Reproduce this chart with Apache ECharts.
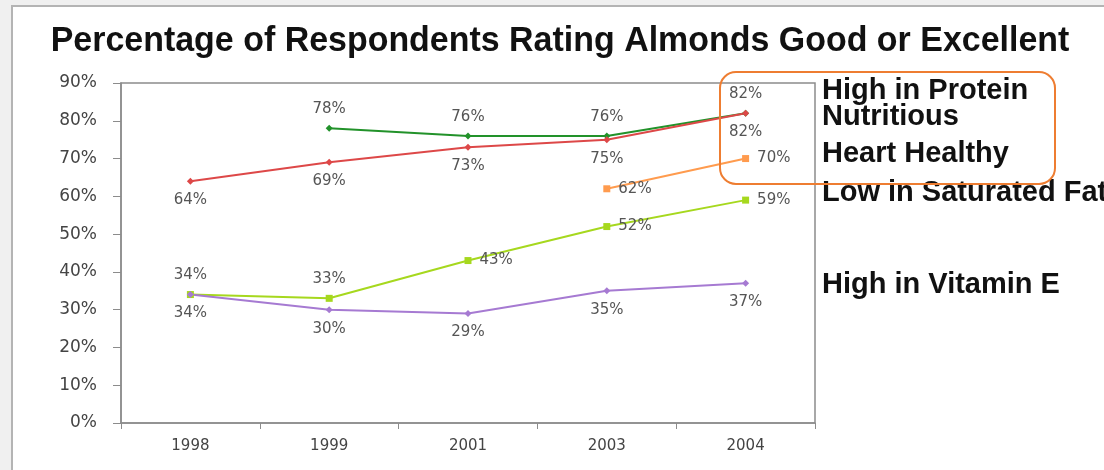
<!DOCTYPE html>
<html>
<head>
<meta charset="utf-8">
<style>
  html, body { margin: 0; padding: 0; background: #f0f0f0; }
  #chart { width: 1104px; height: 470px; }
</style>
<script src="https://cdn.jsdelivr.net/npm/echarts@6/dist/echarts.min.js"></script>
</head>
<body>
<div id="chart"></div>
<script>
// Survey years and ratings (percent rating "good or excellent")
const years = ['1998', '1999', '2001', '2003', '2004'];
const highInProtein = [null, 78, 76, 76, 82];
const nutritious = [64, 69, 73, 75, 82];
const heartHealthy = [null, null, null, 62, 70];
const lowInSatFat = [34, 33, 43, 52, 59];
const highInVitaminE = [34, 30, 29, 35, 37];

const seriesNames = ['High in Protein', 'Nutritious', 'Heart Healthy', 'Low in Saturated Fat', 'High in Vitamin E'];
const yTicks = { min: 0, max: 90, step: 10 };

const titleText = 'Percentage of Respondents Rating Almonds Good or Excellent';

const labelFont = { fontFamily: 'DejaVu Sans', fontSize: 15, color: '#555' };
const nameFont = { fontFamily: 'Liberation Sans', fontWeight: 'bold', fontSize: 29, fill: '#111', verticalAlign: 'middle' };

function makeSeries(name, data, color, symbol, labelPos) {
  return {
    name: name,
    type: 'line',
    data: data,
    connectNulls: false,
    symbol: symbol,
    symbolSize: 7,
    lineStyle: { color: color, width: 2 },
    itemStyle: { color: color },
    label: Object.assign({
      show: true,
      position: labelPos,
      distance: 8,
      formatter: p => p.value + '%'
    }, labelFont)
  };
}

// Low in Saturated Fat: first two labels sit above the point, the rest to the right
const lowFatData = lowInSatFat.map((v, i) => ({
  value: v,
  label: { position: i < 2 ? 'top' : 'right' }
}));

// series names listed beside the plot, one text element each
const nameRows = [91, 117, 154, 193, 285];
const nameTexts = seriesNames.map((n, i) => ({
  type: 'text', z: 10, x: 822, y: nameRows[i],
  style: Object.assign({ text: n }, nameFont)
}));

const chart = echarts.init(document.getElementById('chart'), null, { renderer: 'canvas' });

chart.setOption({
  backgroundColor: '#f0f0f0',
  animation: false,
  graphic: [
    // slide panel
    {
      type: 'rect', z: -20, silent: true,
      shape: { x: 12, y: 6, width: 1200, height: 600 },
      style: { fill: '#ffffff', stroke: '#b4b4b4', lineWidth: 2 }
    },
    // chart title
    {
      type: 'text', z: 10,
      x: 560, y: 41, scaleX: 0.97,
      style: {
        text: titleText,
        fontFamily: 'Liberation Sans', fontWeight: 'bold', fontSize: 35,
        fill: '#111', align: 'center', verticalAlign: 'middle'
      }
    },
    ...nameTexts,
    // highlight box round the top three names
    {
      type: 'rect', z: 11, silent: true,
      shape: { x: 720, y: 72, width: 335, height: 112, r: 16 },
      style: { fill: 'none', stroke: '#ee7d31', lineWidth: 2 }
    }
  ],
  grid: {
    left: 121, right: 289, top: 83, bottom: 47,
    show: true, borderColor: '#8c8c8c', borderWidth: 1.5, backgroundColor: '#fff'
  },
  xAxis: {
    type: 'category',
    data: years,
    boundaryGap: true,
    axisLine: { lineStyle: { color: '#8c8c8c', width: 1.5 } },
    axisTick: { show: true, length: 6, inside: false, lineStyle: { color: '#8c8c8c' } },
    axisLabel: { margin: 16, fontFamily: 'DejaVu Sans', fontSize: 15, color: '#444' },
    splitLine: { show: false }
  },
  yAxis: {
    type: 'value',
    min: yTicks.min, max: yTicks.max, interval: yTicks.step,
    axisLine: { show: true, lineStyle: { color: '#8c8c8c', width: 1.5 } },
    axisTick: { show: true, length: 8, lineStyle: { color: '#8c8c8c' } },
    axisLabel: { margin: 24, formatter: '{value}%', fontFamily: 'DejaVu Sans', fontSize: 17, color: '#444' },
    splitLine: { show: false }
  },
  series: [
    makeSeries(seriesNames[0], highInProtein, '#22922a', 'diamond', 'top'),
    makeSeries(seriesNames[1], nutritious, '#dd4848', 'diamond', 'bottom'),
    makeSeries(seriesNames[2], heartHealthy, '#ff9b4e', 'rect', 'right'),
    makeSeries(seriesNames[3], lowFatData, '#a6d81e', 'rect', 'right'),
    makeSeries(seriesNames[4], highInVitaminE, '#a67ad2', 'diamond', 'bottom')
  ]
});
</script>
</body>
</html>
